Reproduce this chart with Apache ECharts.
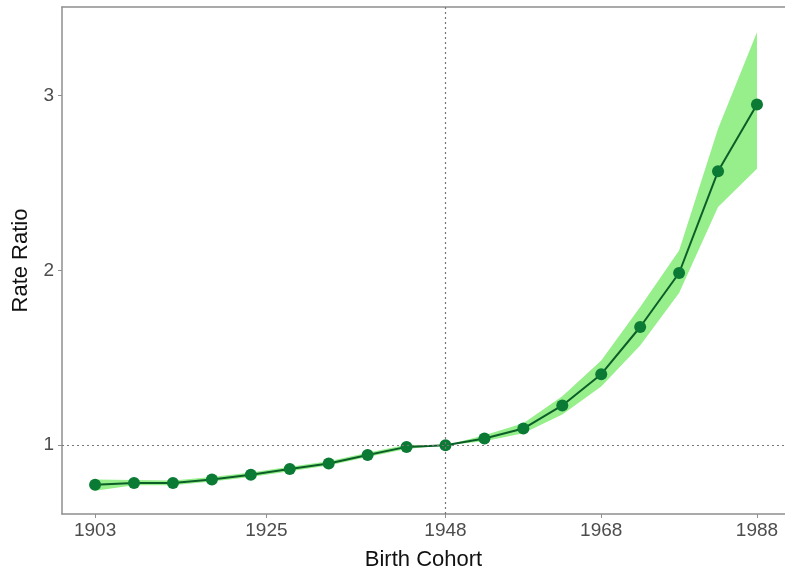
<!DOCTYPE html>
<html>
<head>
<meta charset="utf-8">
<script src="https://cdn.jsdelivr.net/npm/echarts@6/dist/echarts.min.js"></script>
<style>html,body{margin:0;padding:0;background:#fff;}#chart{width:785px;height:574px;}</style>
</head>
<body>
<div id="chart"></div>
<script>
var cohorts = [1903,1908,1913,1918,1923,1928,1933,1938,1943,1948,1953,1958,1963,1968,1973,1978,1983,1988];
var rateRatio = [0.773,0.784,0.783,0.804,0.830,0.863,0.895,0.944,0.990,1.000,1.038,1.095,1.227,1.406,1.676,1.985,2.567,2.949];
var lowerCI = [0.739,0.770,0.770,0.792,0.818,0.851,0.883,0.932,0.978,1.000,1.022,1.068,1.175,1.335,1.570,1.870,2.362,2.581];
var upperCI = [0.804,0.800,0.797,0.817,0.843,0.876,0.908,0.957,1.002,1.000,1.056,1.125,1.280,1.485,1.790,2.114,2.810,3.362];
var xTicks = [1903,1925,1948,1968,1988];
var yTicks = [1,2,3];
var refX = 1948, refY = 1;

var bandData = cohorts.map(function(c,i){return [c, lowerCI[i], upperCI[i]];});
var mainData = cohorts.map(function(c,i){return [c, rateRatio[i]];});

var axisColor = '#8f8f8f';
var fontFam = 'Liberation Sans, Arial, sans-serif';
var chart = echarts.init(document.getElementById('chart'), null, {renderer:'canvas'});
chart.setOption({
  animation:false,
  backgroundColor:'#fff',
  grid:{left:62, top:7, right:0, bottom:60, outerBoundsMode:'none', containLabel:false},
  xAxis:[{
    type:'value', min:1898.75, max:1991.6,
    name:'Birth Cohort', nameLocation:'middle', nameGap:35,
    nameTextStyle:{fontFamily:fontFam, fontSize:22, color:'#111'},
    axisLine:{show:true, lineStyle:{color:axisColor, width:1.5}},
    axisTick:{show:true, length:4, customValues:xTicks, lineStyle:{color:axisColor}},
    axisLabel:{customValues:xTicks, margin:7, fontFamily:fontFam, fontSize:19, color:'#4d4d4d', formatter:function(v){return String(v);}},
    splitLine:{show:false}
  },{
    type:'value', position:'top', min:1898.75, max:1991.6,
    axisLine:{show:true, lineStyle:{color:axisColor, width:1.5}},
    axisTick:{show:false}, axisLabel:{show:false}, splitLine:{show:false}
  }],
  yAxis:{
    type:'value', min:0.606, max:3.507,
    name:'Rate Ratio', nameLocation:'middle', nameGap:30,
    nameTextStyle:{fontFamily:fontFam, fontSize:22, color:'#111'},
    axisLine:{show:true, lineStyle:{color:axisColor, width:1.5}},
    axisTick:{show:true, length:4, customValues:yTicks, lineStyle:{color:axisColor}},
    axisLabel:{customValues:yTicks, margin:8, fontFamily:fontFam, fontSize:19, color:'#4d4d4d'},
    splitLine:{show:false}
  },
  series:[
    {type:'custom', data:bandData, silent:true, z:1,
      encode:{x:0, y:[1,2]},
      renderItem:function(params, api){
        if (params.dataIndex !== 0) return null;
        var pts = [];
        for (var i=0;i<bandData.length;i++) pts.push(api.coord([bandData[i][0], bandData[i][2]]));
        for (var j=bandData.length-1;j>=0;j--) pts.push(api.coord([bandData[j][0], bandData[j][1]]));
        return {type:'polygon', shape:{points:pts}, style:{fill:'#96ef8b'}};
      }
    },
    {type:'line', data:mainData, symbol:'circle', symbolSize:12,
      itemStyle:{color:'#0a7a34'}, lineStyle:{color:'#0b5e28', width:2}, z:3,
      markLine:{silent:true, symbol:'none', label:{show:false},
        lineStyle:{color:'#777', type:[2,3], width:1.2},
        data:[{xAxis:refX},{yAxis:refY}]}
    }
  ]
});
</script>
</body>
</html>
